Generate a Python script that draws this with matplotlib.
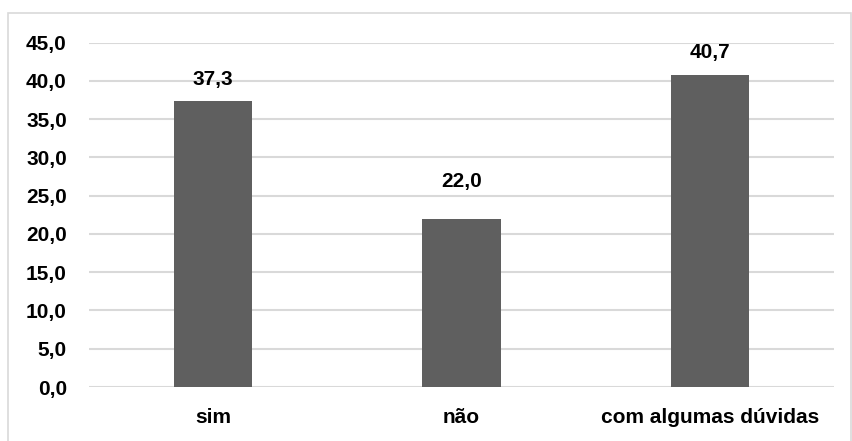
import matplotlib
matplotlib.use('Agg')
import matplotlib.pyplot as plt
from matplotlib.patches import Rectangle

# Dados do gráfico
categorias = ['sim', 'não', 'com algumas dúvidas']
valores = [37.3, 22.0, 40.7]
ticks_y = [0, 5, 10, 15, 20, 25, 30, 35, 40, 45]

plt.rcParams['font.family'] = ['Liberation Sans', 'DejaVu Sans']
plt.rcParams['font.weight'] = 'bold'

fig = plt.figure(figsize=(8.53, 4.41), dpi=100)

# Moldura cinza à volta do gráfico
fig.patches.append(Rectangle((8 / 853, -0.05), (851 - 8) / 853, 1.05 - 13 / 441,
                             transform=fig.transFigure, fill=False,
                             edgecolor='#d9d9d9', linewidth=1.2))

ax = fig.add_axes([89 / 853, 1 - 387 / 441, (834 - 89) / 853, (387 - 42.5) / 441])

x = range(len(categorias))
ax.bar(x, valores, width=0.315, color='#5f5f5f', zorder=3)

ax.set_xlim(-0.5, 2.5)
ax.set_ylim(0, 45)
ax.set_yticks(ticks_y)
ax.set_yticklabels([('%.1f' % t).replace('.', ',') for t in ticks_y],
                   fontsize=15, fontweight='bold')
ax.set_xticks(list(x))
ax.set_xticklabels(categorias, fontsize=15, fontweight='bold')
ax.tick_params(length=0)
ax.tick_params(axis='y', pad=16)
ax.tick_params(axis='x', pad=15)

ax.grid(axis='y', color='#d9d9d9', linewidth=1.5, zorder=0)
for s in ax.spines.values():
    s.set_visible(False)

# Rótulos dos valores
desloc = [22, 37, 23]
for i, v in enumerate(valores):
    ax.annotate(('%.1f' % v).replace('.', ','), (i, v), xytext=(0, desloc[i]),
                textcoords='offset pixels', ha='center', va='center',
                fontsize=15, fontweight='bold', zorder=4)

fig.savefig('out.png', dpi=100)
